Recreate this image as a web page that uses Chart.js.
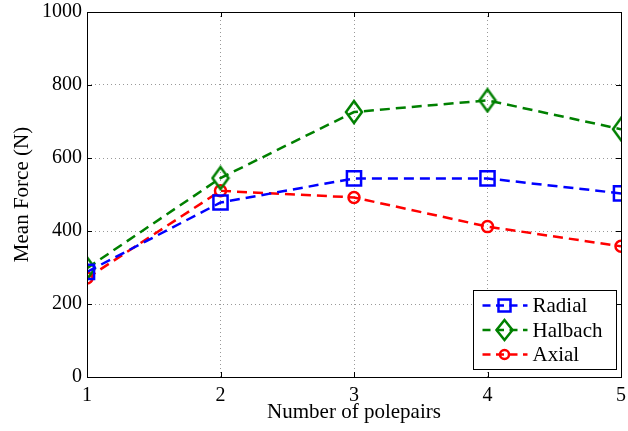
<!DOCTYPE html>
<html lang="en">
<head>
    <meta charset="UTF-8">
    <title>Mean Force vs Number of polepairs</title>
    <script src="https://cdn.jsdelivr.net/npm/chart.js"></script>
    <style>
        * { margin: 0; padding: 0; box-sizing: border-box; }
        body { background: white; }
        .chart-box { width: 628px; height: 431px; position: relative; }
    </style>
</head>
<body>
    <div class="chart-box">
        <canvas id="forceChart"></canvas>
    </div>

    <script>
        // data
        const polepairs = [1, 2, 3, 4, 5];
        const radial = [288, 478, 544, 544, 503];
        const halbach = [298, 545, 726, 758, 679];
        const axial = [271, 510, 492, 412, 358];
        const yTicks = [0, 200, 400, 600, 800, 1000];

        const seriesNames = ['Radial', 'Halbach', 'Axial'];
        const seriesColors = ['#0000ff', '#008000', '#ff0000'];

        const serif = '"Liberation Serif", "DejaVu Serif", serif';

        // MATLAB-like diamond marker (taller than wide)
        function makeDiamond(w, h, color, lw) {
            const c = document.createElement('canvas');
            c.width = w + 4;
            c.height = h + 4;
            const g = c.getContext('2d');
            g.strokeStyle = color;
            g.lineWidth = lw;
            g.beginPath();
            g.moveTo(c.width / 2, 2);
            g.lineTo(c.width - 2, c.height / 2);
            g.lineTo(c.width / 2, c.height - 2);
            g.lineTo(2, c.height / 2);
            g.closePath();
            g.stroke();
            return c;
        }
        const diamond = makeDiamond(16, 22, seriesColors[1], 2.5);

        function toPoints(values) {
            return polepairs.map((p, i) => ({ x: p, y: values[i] }));
        }

        const markerStyles = ['rect', diamond, 'circle'];
        const markerRadius = [10, 11, 5.5];

        // box, inward ticks and legend
        const matlabFrame = {
            id: 'matlabFrame',
            afterDraw(chart) {
                const ctx = chart.ctx;
                const a = chart.chartArea;
                const xs = chart.scales.x;
                const ys = chart.scales.y;
                ctx.save();
                ctx.strokeStyle = '#000';
                ctx.lineWidth = 1;
                ctx.setLineDash([]);
                ctx.beginPath();
                polepairs.forEach(p => {
                    const px = Math.round(xs.getPixelForValue(p)) + 0.5;
                    ctx.moveTo(px, a.bottom); ctx.lineTo(px, a.bottom - 5);
                    ctx.moveTo(px, a.top); ctx.lineTo(px, a.top + 5);
                });
                yTicks.forEach(v => {
                    const py = Math.round(ys.getPixelForValue(v)) + 0.5;
                    ctx.moveTo(a.left, py); ctx.lineTo(a.left + 5, py);
                    ctx.moveTo(a.right, py); ctx.lineTo(a.right - 5, py);
                });
                ctx.stroke();
                ctx.strokeRect(Math.round(a.left) + 0.5, Math.round(a.top) + 0.5,
                    Math.round(a.right - a.left), Math.round(a.bottom - a.top));

                // legend
                const bw = 143, bh = 79;
                const bx = Math.round(a.right - bw - 5) + 0.5;
                const by = Math.round(a.bottom - bh - 8) + 0.5;
                ctx.fillStyle = '#fff';
                ctx.fillRect(bx, by, bw, bh);
                ctx.strokeRect(bx, by, bw, bh);
                ctx.font = '21px ' + serif;
                ctx.textBaseline = 'middle';
                ctx.textAlign = 'left';
                seriesNames.forEach((name, i) => {
                    const cy = by + 15 + i * 24.5;
                    const cx = bx + 31;
                    ctx.strokeStyle = seriesColors[i];
                    ctx.lineWidth = 2.5;
                    ctx.setLineDash([8, 5.5]);
                    ctx.beginPath();
                    ctx.moveTo(bx + 9, cy);
                    ctx.lineTo(bx + 54, cy);
                    ctx.stroke();
                    ctx.setLineDash([]);
                    ctx.beginPath();
                    if (i === 0) {
                        ctx.rect(cx - 6, cy - 6, 12, 12);
                    } else if (i === 1) {
                        ctx.moveTo(cx, cy - 10);
                        ctx.lineTo(cx + 8, cy);
                        ctx.lineTo(cx, cy + 10);
                        ctx.lineTo(cx - 8, cy);
                        ctx.closePath();
                    } else {
                        ctx.arc(cx, cy, 4.5, 0, Math.PI * 2);
                    }
                    ctx.stroke();
                    ctx.fillStyle = '#000';
                    ctx.fillText(name, bx + 59, cy + 1);
                });
                ctx.restore();
            }
        };

        const forceCtx = document.getElementById('forceChart').getContext('2d');
        new Chart(forceCtx, {
            type: 'line',
            data: {
                datasets: [radial, halbach, axial].map((vals, i) => ({
                    label: seriesNames[i],
                    data: toPoints(vals),
                    borderColor: seriesColors[i],
                    backgroundColor: 'transparent',
                    borderWidth: 2.5,
                    borderDash: [10, 6],
                    pointStyle: markerStyles[i],
                    pointRadius: markerRadius[i],
                    pointBorderWidth: 2.5,
                    pointBorderColor: seriesColors[i],
                    pointBackgroundColor: 'transparent',
                    tension: 0
                }))
            },
            options: {
                responsive: true,
                maintainAspectRatio: false,
                animation: false,
                events: [],
                layout: { autoPadding: false, padding: { top: 12, right: 7, left: 0, bottom: 0 } },
                plugins: {
                    legend: { display: false },
                    tooltip: { enabled: false }
                },
                scales: {
                    x: {
                        type: 'linear',
                        min: 1,
                        max: 5,
                        afterFit(scale) {
                            scale.height = 54;
                            scale.paddingLeft = 0;
                            scale.paddingRight = 0;
                        },
                        afterBuildTicks(scale) { scale.ticks = polepairs.map(v => ({ value: v })); },
                        ticks: {
                            color: '#000',
                            padding: 7,
                            font: { family: serif, size: 20 },
                            callback: v => String(v)
                        },
                        grid: { color: '#999', lineWidth: 1, drawTicks: false },
                        border: { display: false, dash: [1, 3] },
                        title: {
                            display: true,
                            text: 'Number of polepairs',
                            color: '#000',
                            font: { family: serif, size: 21 },
                            padding: { top: 0, bottom: 6 }
                        }
                    },
                    y: {
                        min: 0,
                        max: 1000,
                        afterFit(scale) {
                            scale.width = 87;
                            scale.paddingTop = 0;
                            scale.paddingBottom = 0;
                        },
                        afterBuildTicks(scale) { scale.ticks = yTicks.map(v => ({ value: v })); },
                        ticks: {
                            color: '#000',
                            padding: 5,
                            font: { family: serif, size: 20 },
                            callback: v => String(v)
                        },
                        grid: { color: '#999', lineWidth: 1, drawTicks: false },
                        border: { display: false, dash: [1, 3] },
                        title: {
                            display: true,
                            text: 'Mean Force (N)',
                            color: '#000',
                            font: { family: serif, size: 21 },
                            padding: { top: 10, bottom: 0 }
                        }
                    }
                }
            },
            plugins: [matlabFrame]
        });
    </script>
</body>
</html>
